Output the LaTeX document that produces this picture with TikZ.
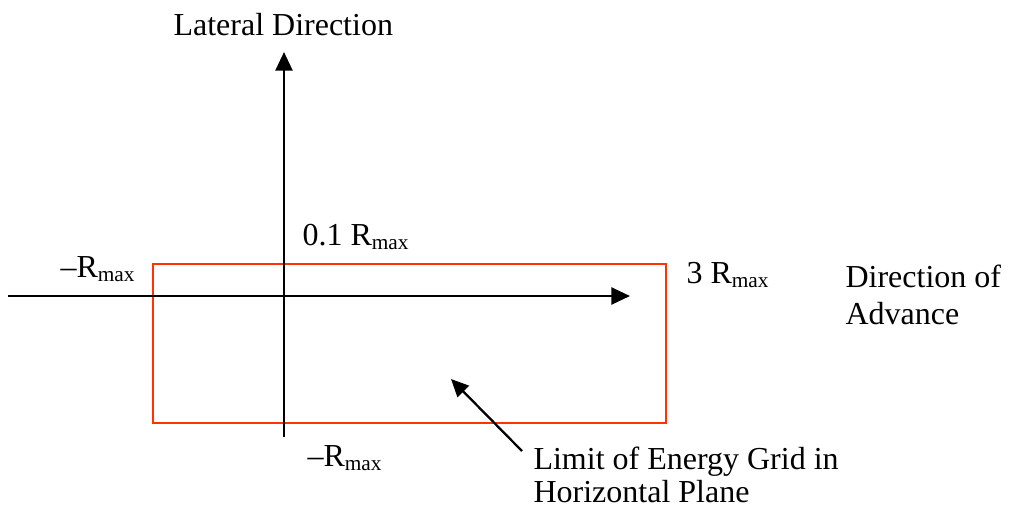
\documentclass[tikz,border=0pt]{standalone}
\usepackage{fontspec}
\setmainfont{Liberation Serif}
\usetikzlibrary{arrows.meta}
\definecolor{gridred}{HTML}{FF3300}
\begin{document}
\begin{tikzpicture}[x=0.375pt,y=-0.375pt,
  axis/.style={line width=0.85pt,-{Triangle[length=7pt,width=6.4pt]}},
  pointer/.style={line width=0.85pt,-{Triangle[length=6.6pt,width=6pt]}},
  gridbox/.style={draw=gridred,line width=0.8pt,minimum width=192.4pt,minimum height=59.6pt,inner sep=0pt},
  lbl/.style={font=\fontsize{12}{14}\selectfont,inner sep=0pt,anchor=base west}]
\useasboundingbox (0,0) rectangle (1009,508);
% grid limit box
\node[gridbox] (grid) at (409.5,343.5) {};
% axes
\coordinate (vbot) at (284,437);
\coordinate (vtop) at (284,52);
\coordinate (hl) at (8,296);
\coordinate (hr) at (630,296);
\draw[axis] (vbot) -- (vtop);
\draw[axis] (hl) -- (hr);
% labels
\node[lbl] (lat) at (173,35) {Lateral Direction};
\node[lbl] (top) at (302,245) {0.1 R\textsubscript{max}};
\node[lbl] (left) at (60,277) {\textendash R\textsubscript{max}};
\node[lbl] (right) at (686,283) {3 R\textsubscript{max}};
\node[lbl] (dir1) at (845,287) {Direction of};
\node[lbl] (dir2) at (845,324) {Advance};
\node[lbl] (bottom) at (307,466) {\textendash R\textsubscript{max}};
\node[lbl] (lim1) at (533,469) {Limit of Energy Grid in};
\node[lbl] (lim2) at (533,502) {Horizontal Plane};
% pointer
\coordinate (ptail) at (522,451);
\coordinate (ptip) at (451,379);
\draw[pointer] (ptail) -- (ptip);
\end{tikzpicture}
\end{document}
